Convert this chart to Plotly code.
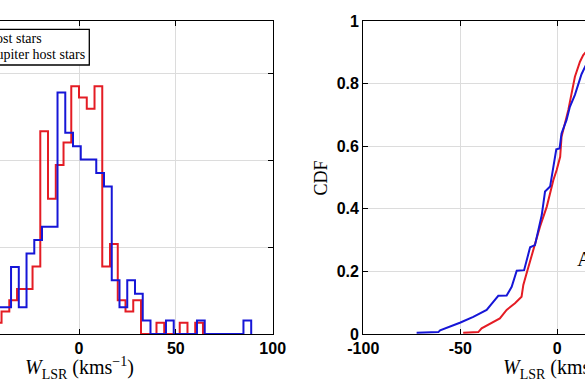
import plotly.graph_objects as go

# ---------------- data ----------------
bin_width = 4  # km/s

# left panel: stairs histograms (counts per bin, normalised to pdf)
red_name = "Host stars"
red_start = -48
red_counts = [1, 1, 2, 3, 4, 4, 6, 18, 12, 15, 17, 22, 21, 20, 22, 6, 8, 3, 2, 3,
              0, 0, 1, 0, 0, 1, 0, 1]

blue_name = "Jupiter host stars"
blue_start = -71.1
blue_counts = [1, 0, 1, 1, 2, 2, 2,
               2, 2, 5, 2, 6, 7, 8, 8,
               18, 15, 14, 13, 13, 12, 11,
               4, 2, 4, 3, 1, 0, 0, 1, 0, 0, 0, 1,
               0, 0, 0, 0, 0, 1]

# right panel: empirical CDFs
red_cdf_x = [-48.5, -40.7, -39.0, -34.7, -29.6, -26.1, -21.8, -18.4, -17.5, -15.8,
             -12.3, -8.9, -5.4, -2.0, -0.3, 1.5, 2.2, 5.7, 9.1, 11.7, 13.4, 14.3,
             20.0, 32.0, 64.0]
red_cdf_y = [0.004, 0.006, 0.018, 0.032, 0.050, 0.077, 0.098, 0.119, 0.157, 0.194,
             0.274, 0.343, 0.407, 0.492, 0.524, 0.566, 0.630, 0.716, 0.822, 0.870,
             0.891, 0.897, 0.940, 0.985, 1.0]

blue_cdf_x = [-72.5, -61.3, -60.4, -55.3, -50.2, -43.3, -36.4, -33.0, -30.4, -26.1,
              -23.5, -20.9, -17.1, -14.0, -11.5, -8.0, -6.3, -3.7, -1.5, -0.5, 1.2,
              2.2, 4.8, 6.5, 9.1, 10.8, 12.5, 14.3, 20.0, 33.0, 89.0]
blue_cdf_y = [0.004, 0.006, 0.012, 0.023, 0.036, 0.055, 0.077, 0.103, 0.122, 0.123,
              0.151, 0.202, 0.204, 0.277, 0.284, 0.380, 0.455, 0.471, 0.560, 0.590, 0.593,
              0.641, 0.684, 0.726, 0.764, 0.800, 0.830, 0.853, 0.920, 0.975, 1.0]

hist_xticks = [-50, 0, 50, 100]
hist_xticktext = ["-50", "0", "50", "100"]
cdf_xticks = [-100, -50, 0]
cdf_xticktext = ["-100", "-50", "0"]
cdf_yticks = [0, 0.2, 0.4, 0.6, 0.8, 1]
cdf_yticktext = ["0", "0.2", "0.4", "0.6", "0.8", "1"]

RED = "rgb(228,28,36)"
BLUE = "rgb(22,22,215)"


def stairs(start, counts):
    n = sum(counts)
    edges = [start + bin_width * i for i in range(len(counts) + 1)]
    dens = [c / (n * bin_width) for c in counts]
    xs = [edges[0]] + edges[:-1] + [edges[-1]]
    ys = [0] + dens + [0]
    return xs, ys


fig = go.Figure()
rx, ry = stairs(red_start, red_counts)
bx, by = stairs(blue_start, blue_counts)
fig.add_trace(go.Scatter(x=rx, y=ry, mode="lines", line=dict(color=RED, width=2, shape="hv"),
                         name=red_name, xaxis="x", yaxis="y"))
fig.add_trace(go.Scatter(x=bx, y=by, mode="lines", line=dict(color=BLUE, width=2, shape="hv"),
                         name=blue_name, xaxis="x", yaxis="y"))
fig.add_trace(go.Scatter(x=red_cdf_x, y=red_cdf_y, mode="lines", line=dict(color=RED, width=2),
                         name=red_name, xaxis="x2", yaxis="y2"))
fig.add_trace(go.Scatter(x=blue_cdf_x, y=blue_cdf_y, mode="lines", line=dict(color=BLUE, width=2),
                         name=blue_name, xaxis="x2", yaxis="y2"))

W, H = 585, 390
TOP, BOT = 21, 334
PH = BOT - TOP


def px(xp):
    return xp / W


def py(yp):
    return (BOT - yp) / PH


tickfont = dict(family="Liberation Sans, Arial, sans-serif", size=16, color="black", weight="bold")
common = dict(showline=True, linecolor="black", linewidth=1.3, ticks="inside", ticklen=5,
              tickcolor="black", tickwidth=1.2, showgrid=True, gridcolor="#dcdcdc", gridwidth=1,
              zeroline=False, tickfont=tickfont, automargin=False)

fig.update_layout(
    width=W, height=H, margin=dict(l=0, r=0, t=TOP, b=H - BOT, autoexpand=False),
    paper_bgcolor="white", plot_bgcolor="white", showlegend=False,
    xaxis=dict(domain=[0, px(272.7)], range=[-40.8, 100], tickvals=hist_xticks,
               ticktext=hist_xticktext, mirror="ticks", anchor="y", **common),
    yaxis=dict(domain=[0, 1], range=[0, 0.036], tickvals=[0, 0.01, 0.02, 0.03],
               side="right", showticklabels=False, anchor="x", **common),
    xaxis2=dict(domain=[px(363.3), 1], range=[-100, 14.3], tickvals=cdf_xticks,
                ticktext=cdf_xticktext, mirror="ticks", anchor="y2", **common),
    yaxis2=dict(domain=[0, 1], range=[0, 1], tickvals=cdf_yticks, ticktext=cdf_yticktext,
                anchor="x2", **common),
)

serif = "Liberation Serif, Times New Roman, serif"
title_txt = "<i>W</i><sub>LSR</sub> (kms<sup>−1</sup>)"
anns = [
    dict(text=red_name, x=px(44.5), y=py(38), xanchor="right", yanchor="middle",
         font=dict(family=serif, size=14, color="black")),
    dict(text=blue_name, x=px(86.5), y=py(54), xanchor="right", yanchor="middle",
         font=dict(family=serif, size=14, color="black")),
    dict(text=title_txt, x=px(79), y=py(368), xanchor="center", yanchor="middle",
         font=dict(family=serif, size=20, color="black")),
    dict(text=title_txt, x=px(557.3), y=py(368), xanchor="center", yanchor="middle",
         font=dict(family=serif, size=20, color="black")),
    dict(text="CDF", x=px(320.5), y=py(178), xanchor="center", yanchor="middle", textangle=-90,
         font=dict(family=serif, size=18, color="black")),
    dict(text="A", x=px(575), y=py(259), xanchor="left", yanchor="middle",
         font=dict(family=serif, size=21, color="black")),
]
for a in anns:
    a.update(xref="paper", yref="paper", showarrow=False)
fig.update_layout(annotations=anns)

fig.add_shape(type="rect", xref="paper", yref="paper", x0=px(-30), x1=px(89.3),
              y0=py(65), y1=py(29.3), line=dict(color="black", width=1.3),
              fillcolor="white", layer="above")

fig.write_html("out.html", config={"displayModeBar": False},
               post_script="document.body.style.margin='0';document.body.style.overflow='hidden';")
